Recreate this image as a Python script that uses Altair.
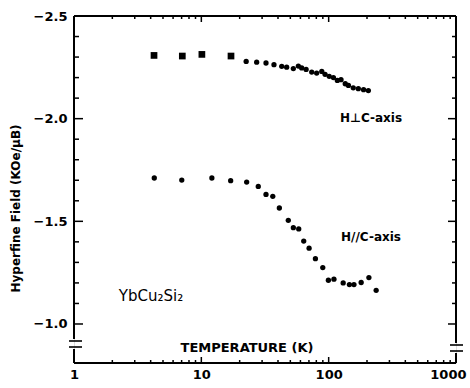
import altair as alt
import pandas as pd

# ---- data ----
upper_T = [4.25, 7.09, 10.1, 17.1, 22.5, 27.2, 32.2, 37.2, 42.8, 46.8, 52.8, 57.8, 61.4, 66.5,
           73.6, 80.5, 88.3, 93.7, 101, 109, 117, 125, 135, 143, 156, 171, 188, 205]
upper_H = [-2.308, -2.305, -2.313, -2.305, -2.279, -2.275, -2.271, -2.263, -2.255, -2.251,
           -2.244, -2.256, -2.247, -2.240, -2.227, -2.222, -2.230, -2.216, -2.206, -2.200,
           -2.186, -2.190, -2.170, -2.162, -2.150, -2.146, -2.141, -2.137]
lower_T = [4.27, 7.02, 12.1, 17.0, 22.7, 28.0, 32.2, 36.4, 41.0, 48.2, 52.8, 58.2, 63.7, 70.2,
           78.7, 89.9, 99.5, 110, 130, 145.5, 158, 180, 207, 236]
lower_H = [-1.711, -1.701, -1.711, -1.698, -1.691, -1.670, -1.631, -1.622, -1.565, -1.505,
           -1.469, -1.463, -1.404, -1.369, -1.318, -1.275, -1.213, -1.218, -1.200, -1.192,
           -1.192, -1.202, -1.226, -1.164]

y_major = [-2.5, -2.0, -1.5, -1.0]
y_minor = [-2.4, -2.3, -2.2, -2.1, -1.9, -1.8, -1.7, -1.6, -1.4, -1.3, -1.2, -1.1]
x_labels = [1, 10, 100, 1000]
x_major = [10, 100]
x_minor = [2, 3, 4, 5, 6, 7, 8, 9, 20, 30, 40, 50, 60, 70, 80, 90,
           200, 300, 400, 500, 600, 700, 800, 900]

W, H = 382, 347
FONT = "DejaVu Sans"

xscale = alt.Scale(type="log", domain=[1, 1000], nice=False)
yscale = alt.Scale(domain=[-2.5, -0.81], reverse=True, nice=False, zero=False)

up = pd.DataFrame({"T": upper_T, "H": upper_H})
lo = pd.DataFrame({"T": lower_T, "H": lower_H})

xaxis = alt.Axis(values=x_labels, labelExpr="format(datum.value, 'd')", ticks=False,
                 domain=False, grid=False, labelFont=FONT, labelFontSize=13,
                 labelFontWeight="bold", labelColor="black", labelPadding=5,
                 labelOverlap=False, labelFlush=False, title=None,
                 labelAlign={"expr": "datum.value >= 1000 ? 'right' : 'center'"},
                 labelOffset={"expr": "datum.value >= 1000 ? 10 : 0"})
yaxis = alt.Axis(values=y_major, labelExpr="format(datum.value, '.1f')", ticks=False,
                 domain=False, grid=False, labelFont=FONT, labelFontSize=13,
                 labelFontWeight="bold", labelColor="black", labelPadding=7,
                 labelOverlap=False, labelBound=False, labelFlush=False,
                 title="Hyperfine Field (KOe/μB)", titleFont=FONT, titleFontSize=12,
                 titleFontWeight="bold", titleColor="black", titleX=-59, titleY=192,
                 titleAlign="center", titleBaseline="middle")

def X(field):
    return alt.X(field, scale=xscale, axis=xaxis)

def Y(field):
    return alt.Y(field, scale=yscale, axis=yaxis)

pts_sq = alt.Chart(up.iloc[:4]).mark_point(shape="square", filled=True, size=45,
                                           color="black", opacity=1).encode(
    x=X("T:Q"), y=Y("H:Q"))
pts_up = alt.Chart(up.iloc[4:]).mark_circle(size=28, color="black", opacity=1).encode(
    x=X("T:Q"), y=Y("H:Q"))
pts_lo = alt.Chart(lo).mark_circle(size=28, color="black", opacity=1).encode(
    x=X("T:Q"), y=Y("H:Q"))

def tdf(v):
    return pd.DataFrame({"T": v, "H": v})

def yticks(vals, x0, x1):
    return alt.Chart(tdf(vals)).mark_rule(color="black", strokeWidth=1.5).encode(
        y=Y("H:Q"), x=alt.value(x0), x2=alt.value(x1))

def xticks(vals, y0, y1):
    return alt.Chart(tdf(vals)).mark_rule(color="black", strokeWidth=1.5).encode(
        x=X("T:Q"), y=alt.value(y0), y2=alt.value(y1))

ticks = [
    yticks(y_major, 0, 9), yticks(y_minor, 0, 5),
    yticks(y_major, W - 8, W), yticks(y_minor, W - 4, W),
    xticks(x_major, 0, 6), xticks(x_minor, 0, 3),
    xticks(x_major, H - 6, H), xticks(x_minor, H - 3, H),
]

dummy = pd.DataFrame({"a": [0]})

def hline(x0, x1, y, w=2):
    return alt.Chart(dummy).mark_rule(color="black", strokeWidth=w).encode(
        x=alt.value(x0), x2=alt.value(x1), y=alt.value(y))

def vline(x, y0, y1, w=2):
    return alt.Chart(dummy).mark_rule(color="black", strokeWidth=w).encode(
        x=alt.value(x), y=alt.value(y0), y2=alt.value(y1))

frame = [
    hline(0, W, 0), hline(0, W, H),
    vline(0, 0, 323), vline(0, 333, H),
    vline(W, 0, 327), vline(W, 337, H),
    # axis break marks
    hline(-5, 8, 325, 1.6), hline(-5, 8, 331, 1.6),
    hline(W - 6, W + 7, 329, 1.6), hline(W - 6, W + 7, 335, 1.6),
]

def label(text, x, y, size, weight="bold"):
    return alt.Chart(dummy).mark_text(text=text, font=FONT, fontSize=size,
                                      fontWeight=weight, color="black",
                                      align="center", baseline="middle").encode(
        x=alt.value(x), y=alt.value(y))

texts = [
    label("H⊥C-axis", 297, 102, 12),
    label("H//C-axis", 297, 221, 12),
    label("YbCu₂Si₂", 77, 280, 15, "normal"),
    label("TEMPERATURE (K)", 173, 332, 13),
]

chart = alt.layer(pts_sq, pts_up, pts_lo, *ticks, *frame, *texts).properties(
    width=W, height=H,
    autosize=alt.AutoSizeParams(type="none"),
    padding={"left": 74, "top": 16, "right": 14, "bottom": 25},
).configure_view(stroke=None).configure(background="white")

chart.save("out.html", embed_options={"renderer": "svg", "actions": False})
